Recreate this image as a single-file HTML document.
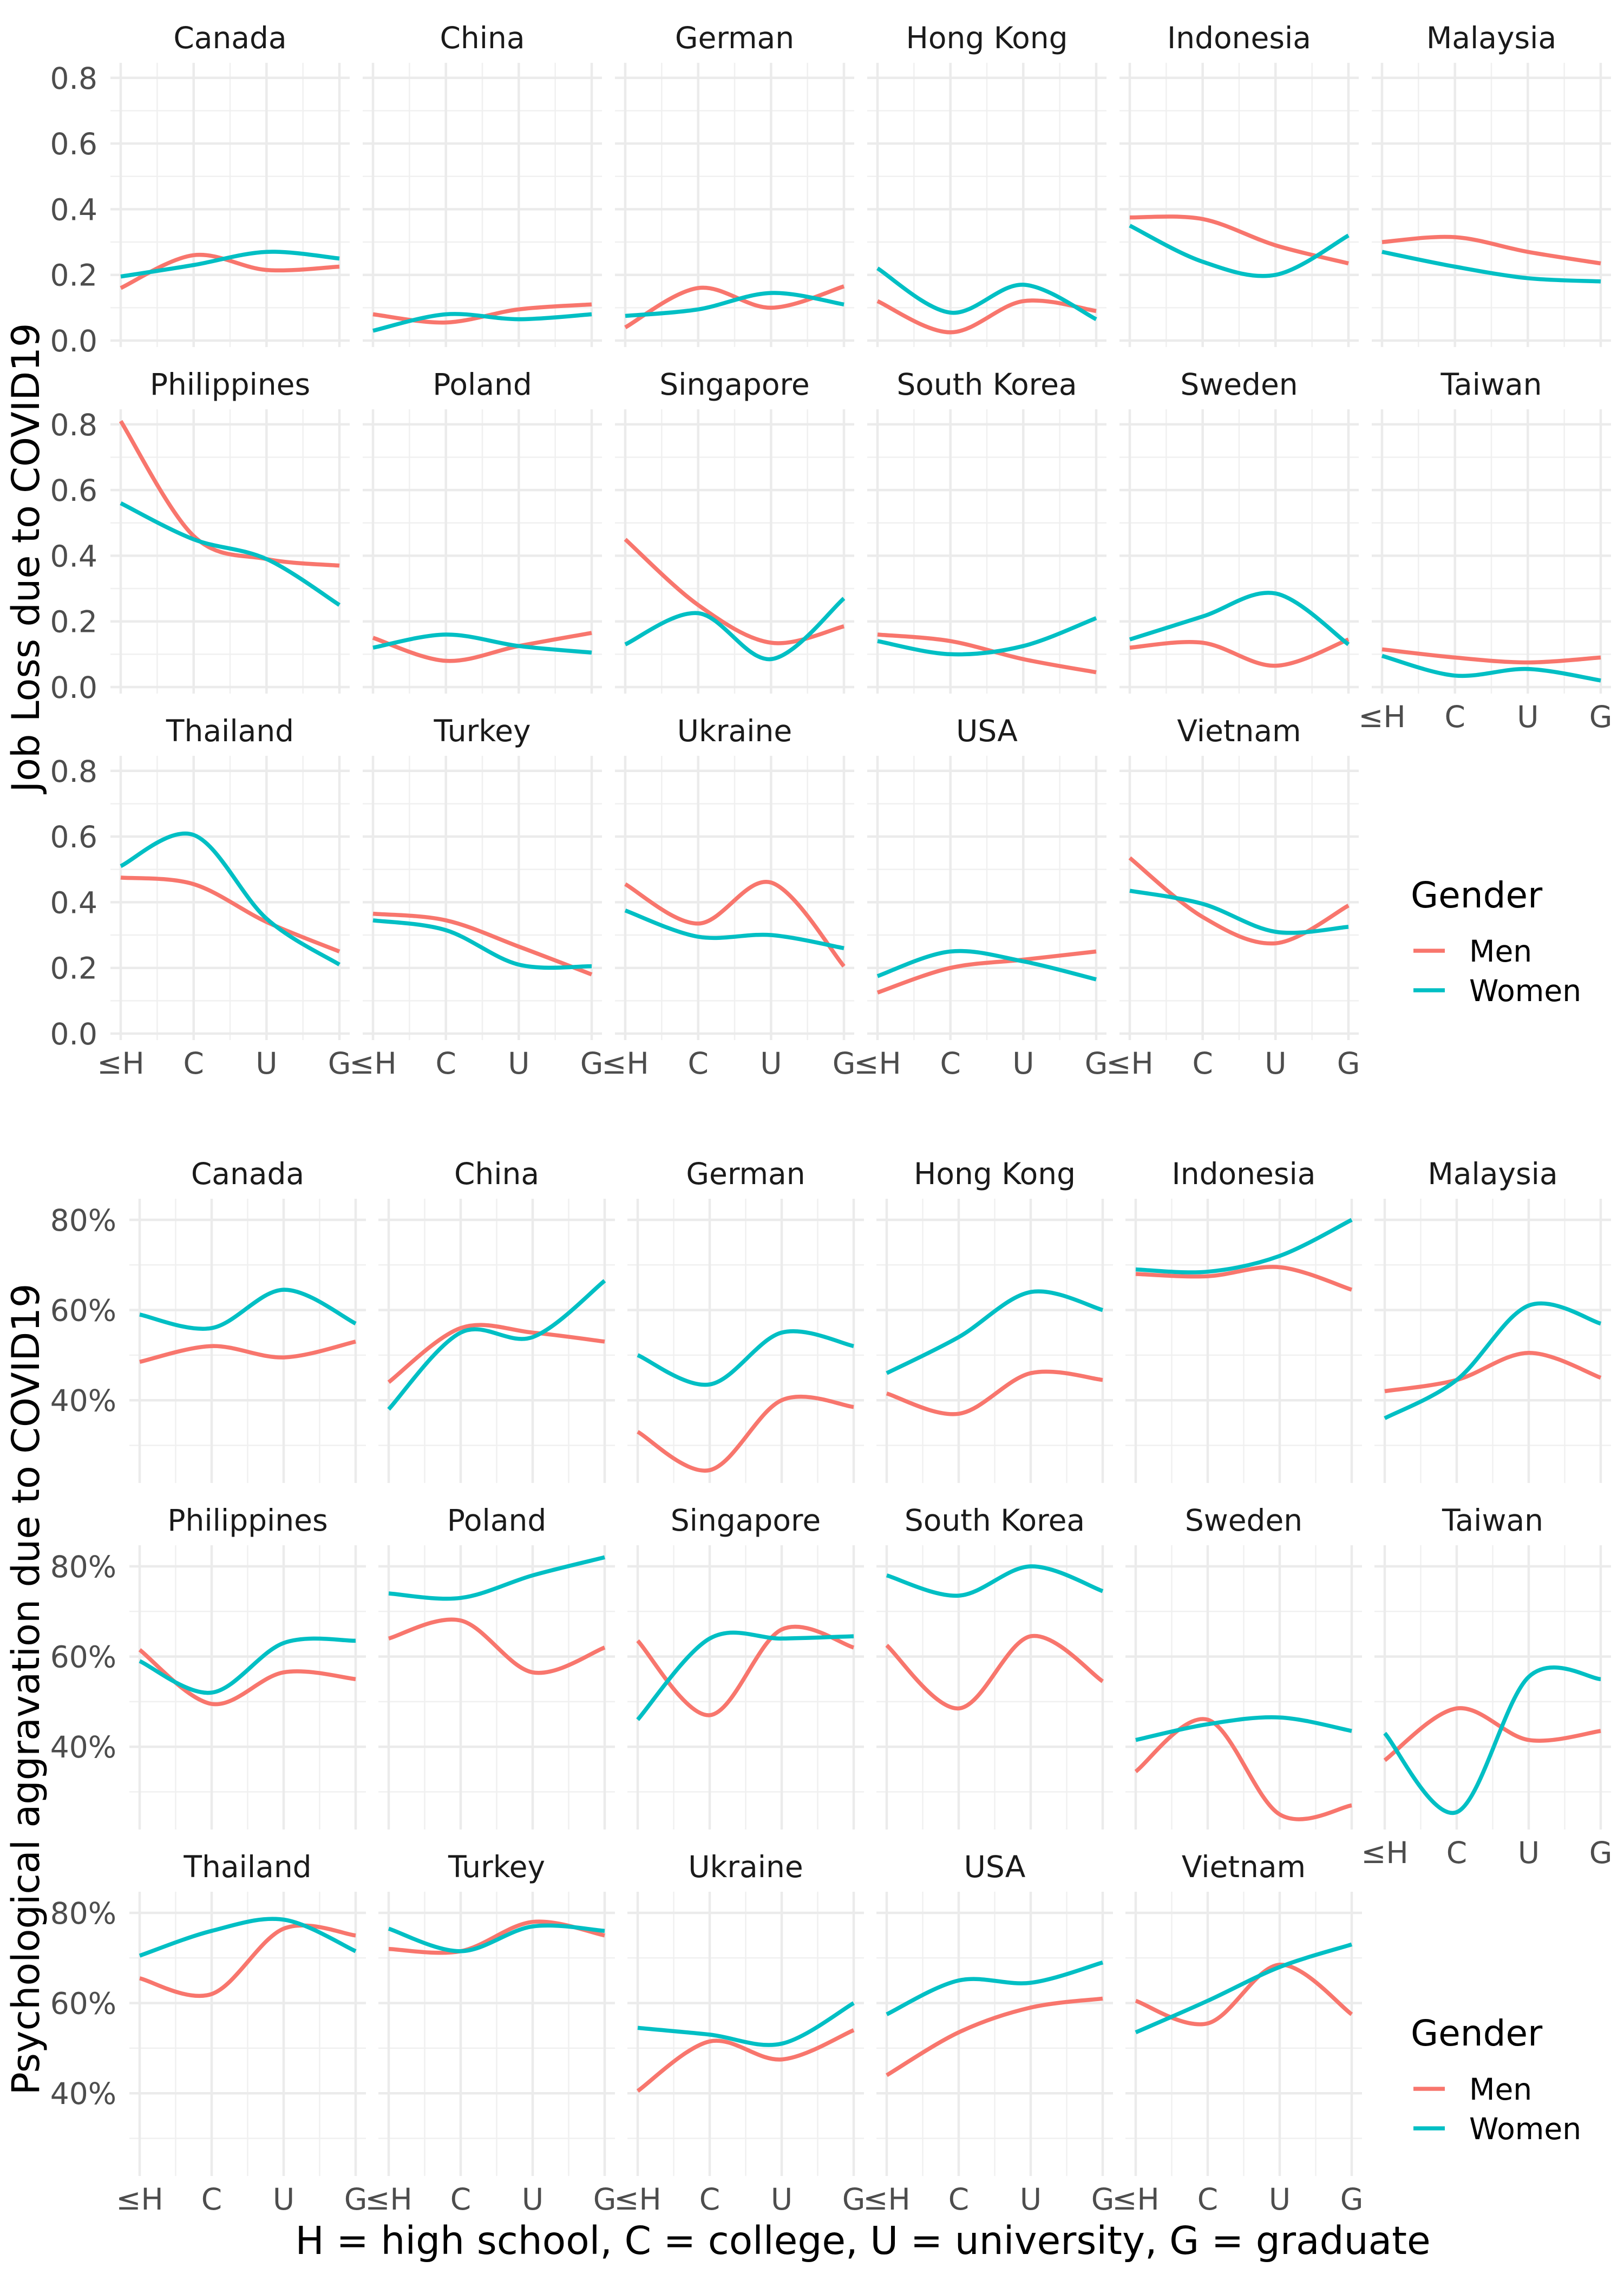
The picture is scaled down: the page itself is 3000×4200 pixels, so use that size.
<!DOCTYPE html>
<html><head><meta charset="utf-8">
<style>
html,body{margin:0;padding:0;background:#fff;}
svg{display:block;font-family:"DejaVu Sans","Liberation Sans",sans-serif;}
</style></head>
<body>
<svg id="chart" width="3000" height="4200" viewBox="0 0 3000 4200" xmlns="http://www.w3.org/2000/svg">
<rect width="3000" height="4200" fill="#fff"/>
<g id="top"></g>
<g id="bottom"></g>
<text x="0" y="0" transform="translate(72,1030) rotate(-90)" font-size="70" text-anchor="middle" fill="#000">Job Loss due to COVID19</text>
<text x="0" y="0" transform="translate(72,3120) rotate(-90)" font-size="70" text-anchor="middle" fill="#000">Psychological aggravation due to COVID19</text>
<text x="1594" y="4163" font-size="71" text-anchor="middle" fill="#000">H = high school, C = college, U = university, G = graduate</text>
</svg>
<script>
const countries = ["Canada","China","German","Hong Kong","Indonesia","Malaysia","Philippines","Poland","Singapore","South Korea","Sweden","Taiwan","Thailand","Turkey","Ukraine","USA","Vietnam"];
const xLabels = ["≤H","C","U","G"];
const jobMen = [
 [0.16,0.26,0.215,0.225],[0.08,0.055,0.095,0.11],[0.04,0.16,0.10,0.165],[0.12,0.025,0.12,0.09],
 [0.375,0.37,0.29,0.235],[0.30,0.315,0.27,0.235],[0.81,0.46,0.39,0.37],[0.15,0.08,0.125,0.165],
 [0.45,0.25,0.135,0.185],[0.16,0.14,0.085,0.045],[0.12,0.135,0.065,0.145],[0.115,0.09,0.075,0.09],
 [0.475,0.455,0.34,0.25],[0.365,0.345,0.265,0.18],[0.455,0.335,0.46,0.205],[0.125,0.20,0.225,0.25],
 [0.535,0.355,0.275,0.39]];
const jobWomen = [
 [0.195,0.23,0.27,0.25],[0.03,0.08,0.065,0.08],[0.075,0.095,0.145,0.11],[0.22,0.085,0.17,0.065],
 [0.35,0.24,0.20,0.32],[0.27,0.225,0.19,0.18],[0.56,0.45,0.39,0.25],[0.12,0.16,0.125,0.105],
 [0.13,0.225,0.085,0.27],[0.14,0.10,0.125,0.21],[0.145,0.215,0.285,0.13],[0.095,0.035,0.055,0.02],
 [0.51,0.605,0.35,0.21],[0.345,0.315,0.21,0.205],[0.375,0.295,0.30,0.26],[0.175,0.25,0.22,0.165],
 [0.435,0.395,0.31,0.325]];
const psyMen = [
 [48.5,52,49.5,53],[44,56,55,53],[33,24.5,40,38.5],[41.5,37,46,44.5],[68,67.5,69.5,64.5],[42,44.5,50.5,45],
 [61.5,49.5,56.5,55],[64,68,56.5,62],[63.5,47,66,62],[62.5,48.5,64.5,54.5],[34.5,46,25,27],[37,48.5,41.5,43.5],
 [65.5,62,76.5,75],[72,71.5,78,75],[40.5,51.5,47.5,54],[44,53.5,59,61],[60.5,55.5,68.5,57.5]];
const psyWomen = [
 [59,56,64.5,57],[38,55,54,66.5],[50,43.5,55,52],[46,54,64,60],[69,68.5,72,80],[36,44.5,61,57],
 [59,52,63,63.5],[74,73,78,82],[46,64,64,64.5],[78,73.5,80,74.5],[41.5,45,46.5,43.5],[43,25.5,55.5,55],
 [70.5,76,78.5,71.5],[76.5,71.5,77,76],[54.5,53,51,60],[57.5,65,64.5,69],[53.5,60.5,68,73]];
const jobTicks = [0,0.2,0.4,0.6,0.8];
const jobMinor = [0.1,0.3,0.5,0.7];
const jobTickLabels = ["0.0","0.2","0.4","0.6","0.8"];
const psyTicks = [40,60,80];
const psyMinor = [30,50,70];
const psyTickLabels = ["40%","60%","80%"];
const genders = ["Men","Women"];

const NS="http://www.w3.org/2000/svg";
function el(tag,attrs,parent){const e=document.createElementNS(NS,tag);for(const k in attrs)e.setAttribute(k,attrs[k]);parent.appendChild(e);return e;}
const colors=["#F8766D","#00BFC4"];

function spline(pts){
  let d="M"+pts[0][0].toFixed(1)+","+pts[0][1].toFixed(1);
  for(let i=0;i<pts.length-1;i++){
    const p0=pts[Math.max(i-1,0)],p1=pts[i],p2=pts[i+1],p3=pts[Math.min(i+2,pts.length-1)];
    const c1=[p1[0]+(p2[0]-p0[0])/6,p1[1]+(p2[1]-p0[1])/6];
    const c2=[p2[0]-(p3[0]-p1[0])/6,p2[1]-(p3[1]-p1[1])/6];
    d+=" C"+c1[0].toFixed(1)+","+c1[1].toFixed(1)+" "+c2[0].toFixed(1)+","+c2[1].toFixed(1)+" "+p2[0].toFixed(1)+","+p2[1].toFixed(1);
  }
  return d;
}

function drawChart(g,cfg){
  for(let i=0;i<countries.length;i++){
    const r=Math.floor(i/6),c=i%6;
    const left=cfg.left+c*cfg.pitchX, w=cfg.width;
    const x0=left+cfg.padX, x1=left+w-cfg.padX;
    const xs=k=>x0+(x1-x0)*k/3;
    const yTop=cfg.top+r*640, yBot=yTop+cfg.height;
    const ys=v=>cfg.yRef+r*640-(v-cfg.vRef)*cfg.ppu;
    const pg=el("g",{},g);
    
    
    cfg.minor.forEach(v=>{el("line",{x1:left,x2:left+w,y1:ys(v),y2:ys(v),stroke:"#f0f0f0","stroke-width":2.5},pg);});
    for(let k=0;k<3;k++){const xm=(xs(k)+xs(k+1))/2;el("line",{x1:xm,x2:xm,y1:yTop,y2:yBot,stroke:"#f0f0f0","stroke-width":2.5},pg);}
    cfg.ticks.forEach(v=>{el("line",{x1:left,x2:left+w,y1:ys(v),y2:ys(v),stroke:"#ebebeb","stroke-width":4.5},pg);});
    for(let k=0;k<4;k++){el("line",{x1:xs(k),x2:xs(k),y1:yTop,y2:yBot,stroke:"#ebebeb","stroke-width":4.5},pg);}
    const st=el("text",{x:left+w/2,y:yTop-27,"font-size":55,"text-anchor":"middle",fill:"#1a1a1a"},pg);
    st.textContent=countries[i];
    
    
    if(c===0){
      cfg.ticks.forEach((v,j)=>{const t=el("text",{x:left-24,y:ys(v)+20,"font-size":55,"text-anchor":"end",fill:"#4d4d4d"},pg);t.textContent=cfg.tickLabels[j];
        
        });
    }
    if(r===2||i===11){
      xLabels.forEach((lab,k)=>{const t=el("text",{x:xs(k),y:yBot+62,"font-size":55,"text-anchor":"middle",fill:"#4d4d4d"},pg);t.textContent=lab;
        
        });
    }
    [cfg.men[i],cfg.women[i]].forEach((vals,s)=>{
      const pts=vals.map((v,k)=>[xs(k),ys(v)]);
      const p=el("path",{d:spline(pts),fill:"none",stroke:colors[s],"stroke-width":7.5,"stroke-linecap":"butt"},pg);
      
      
    });
  }
  const lg=el("g",{},g);
  
  
  const lt=el("text",{x:2606,y:cfg.legY,"font-size":66,fill:"#000"},lg);lt.textContent="Gender";
  
  
  genders.forEach((gname,s)=>{
    const ly=cfg.legY+80+s*73;
    const ln=el("line",{x1:2611,x2:2669,y1:ly,y2:ly,stroke:colors[s],"stroke-width":7.5},lg);
    
    
    const t=el("text",{x:2714,y:ly+20,"font-size":55,fill:"#000"},lg);t.textContent=gname;
    
    
  });
}

drawChart(document.getElementById("top"),{left:204,pitchX:466,width:442,padX:19,top:116,height:525,
  yRef:629,vRef:0,ppu:606.5,ticks:jobTicks,minor:jobMinor,tickLabels:jobTickLabels,men:jobMen,women:jobWomen,legY:1676});
drawChart(document.getElementById("bottom"),{left:239,pitchX:460,width:437,padX:19,top:2214,height:525,
  yRef:2253,vRef:80,ppu:8.33,ticks:psyTicks,minor:psyMinor,tickLabels:psyTickLabels,men:psyMen,women:psyWomen,legY:3778});
</script>
</body></html>
